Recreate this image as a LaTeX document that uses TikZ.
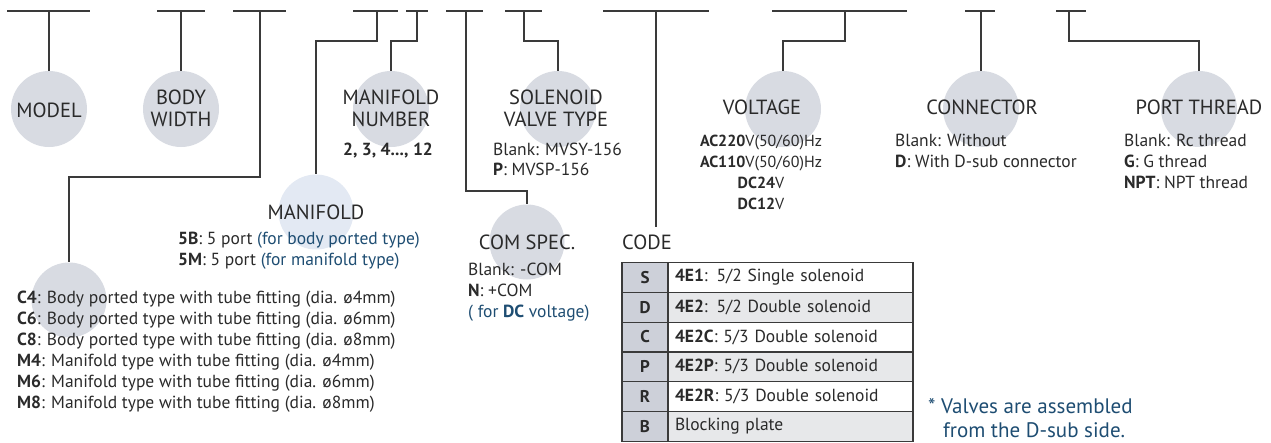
\documentclass[tikz,border=0pt]{standalone}
\usepackage{fontspec}
\setmainfont{PT Sans}
\definecolor{bubble}{HTML}{D8DBE2}
\definecolor{bubblelt}{HTML}{E3E9F3}
\definecolor{ink}{HTML}{2A2A2A}
\definecolor{lineclr}{HTML}{3A3A3A}
\definecolor{noteblue}{HTML}{1E4D72}
\definecolor{codefill}{HTML}{CDD0D9}
\definecolor{altfill}{HTML}{E7E8EA}
\tikzset{
  bub/.style={circle, fill=bubble, minimum size=76pt, inner sep=0pt},
  bar/.style={draw=lineclr, line width=1.4pt},
  conn/.style={draw=lineclr, line width=1.3pt},
  lab/.style={font=\fontsize{20.5}{24}\selectfont, text=ink, inner sep=0pt, anchor=base},
  lst/.style={font=\fontsize{17.5}{20}\selectfont, text=ink, inner sep=0pt, anchor=base west},
  lstc/.style={font=\fontsize{16}{20}\selectfont, text=ink, inner sep=0pt, anchor=base},
  notetxt/.style={font=\fontsize{21}{24}\selectfont, text=noteblue, inner sep=0pt, anchor=base west},
  codecell/.style={draw=lineclr, line width=1.2pt, fill=codefill, minimum width=46pt, minimum height=29.8pt, inner sep=0pt, font=\fontsize{17}{20}\selectfont\bfseries, text=ink},
  desccell/.style={draw=lineclr, line width=1.2pt, minimum width=245pt, minimum height=29.8pt, text width=231pt, inner xsep=7pt, inner ysep=0pt, align=left, font=\fontsize{17.5}{20}\selectfont, text=ink},
}
\begin{document}
\begin{tikzpicture}[x=1pt,y=-1pt]
\useasboundingbox (0,0) rectangle (1271,442);
% bubbles
\node[bub] (cModel) at (49,109) {};
\node[bub] (cBody) at (181,109) {};
\node[bub] (cNum) at (391,109) {};
\node[bub] (cSol) at (558,109) {};
\node[bub] (cVol) at (783,109) {};
\node[bub] (cCon) at (981,109) {};
\node[bub] (cPort) at (1199,109) {};
\node[bub, fill=bubblelt, minimum size=75pt] (cMan) at (316,212) {};
\node[bub, minimum size=75pt] (cCom) at (527,242) {};
\node[bub, minimum size=75pt] (cFit) at (69,300) {};
% top bars
\coordinate (t1) at (49,11);   \coordinate (a1) at (7,11);    \coordinate (b1) at (90,11);
\coordinate (t2) at (181,11);  \coordinate (a2) at (157,11);  \coordinate (b2) at (205,11);
\coordinate (t3) at (260,11);  \coordinate (a3) at (233,11);  \coordinate (b3) at (286,11);
\coordinate (t4) at (377,11);  \coordinate (a4) at (353,11);  \coordinate (b4) at (398,11);
\coordinate (t5) at (417,11);  \coordinate (a5) at (406,11);  \coordinate (b5) at (428,11);
\coordinate (t6) at (466,11);  \coordinate (a6) at (446,11);  \coordinate (b6) at (483,11);
\coordinate (t7) at (524,11);  \coordinate (a7) at (505,11);  \coordinate (b7) at (542,11);
\coordinate (t8) at (656,11);  \coordinate (a8) at (603,11);  \coordinate (b8) at (709,11);
\coordinate (t9) at (845,11);  \coordinate (a9) at (772,11);  \coordinate (b9) at (907,11);
\coordinate (t10) at (981,11); \coordinate (a10) at (965,11); \coordinate (b10) at (995,11);
\coordinate (t11) at (1069,11);\coordinate (a11) at (1056,11);\coordinate (b11) at (1086,11);
\foreach \i in {1,...,11} { \draw[bar] (a\i) -- (b\i); }
\coordinate (codeTop) at (656,227);
% connectors
\draw[conn] (t1) -- (cModel.north);
\draw[conn] (t2) -- (cBody.north);
\draw[conn] (t3) -- (t3 |- 0,177) -| (cFit.north);
\draw[conn] (t4) -- (t4 |- 0,41) -| (cMan.north);
\draw[conn] (t5) -- (t5 |- 0,41) -| (cNum.north);
\draw[conn] (t6) -- (t6 |- 0,191) -| (cCom.north);
\draw[conn] (t7) -- (t7 |- 0,41) -| (cSol.north);
\draw[conn] (t8) -- (codeTop);
\draw[conn] (t9) -- (t9 |- 0,41) -| (cVol.north);
\draw[conn] (t10) -- (cCon.north);
\draw[conn] (t11) -- (t11 |- 0,41) -| (cPort.north);
% labels
\node[lab] (lModel) at (49,117) {MODEL};
\node[lab] (lBody1) at (181,104) {BODY};
\node[lab] (lBody2) at (181,126) {WIDTH};
\node[lab] (lNum1) at (391,104) {MANIFOLD};
\node[lab] (lNum2) at (391,126) {NUMBER};
\node[lab] (lSol1) at (556,104) {SOLENOID};
\node[lab] (lSol2) at (556,126) {VALVE TYPE};
\node[lab] (lVol) at (762,114) {VOLTAGE};
\node[lab] (lCon) at (982,114) {CONNECTOR};
\node[lab] (lPort) at (1199,114) {PORT THREAD};
\node[lab] (lMan) at (316,219) {MANIFOLD};
\node[lab] (lCom) at (527,249) {COM SPEC.};
\node[lab, anchor=base west] (lCode) at (622,249) {CODE};
% lists
\node[lstc, font=\fontsize{17.5}{20}\selectfont] (n1) at (388,155) {\textbf{2, 3, 4..., 12}};
\node[lst] (s1) at (493,155) {Blank: MVSY-156};
\node[lst] (s2) at (493,175) {\textbf{P}: MVSP-156};
\node[lstc] (v1) at (761,146) {\textbf{AC220}V(50/60)Hz};
\node[lstc] (v2) at (761,167) {\textbf{AC110}V(50/60)Hz};
\node[lstc] (v3) at (761,188) {\textbf{DC24}V};
\node[lstc] (v4) at (761,209) {\textbf{DC12}V};
\node[lst] (k1) at (895,146) {Blank: Without};
\node[lst] (k2) at (895,167) {\textbf{D}: With D-sub connector};
\node[lst] (p1) at (1124,146) {Blank: Rc thread};
\node[lst] (p2) at (1124,167) {\textbf{G}: G thread};
\node[lst] (p3) at (1124,188) {\textbf{NPT}: NPT thread};
\node[lst] (m1) at (178,244) {\textbf{5B}: 5 port \textcolor{noteblue}{(for body ported type)}};
\node[lst] (m2) at (178,265) {\textbf{5M}: 5 port \textcolor{noteblue}{(for manifold type)}};
\node[lst] (o1) at (468,275) {Blank: -COM};
\node[lst] (o2) at (468,296) {\textbf{N}: +COM};
\node[lst, text=noteblue] (o3) at (468,317) {( for \textbf{DC} voltage)};
\node[lst] (f1) at (17,303) {\textbf{C4}: Body ported type with tube fitting (dia. ø4mm)};
\node[lst] (f2) at (17,324) {\textbf{C6}: Body ported type with tube fitting (dia. ø6mm)};
\node[lst] (f3) at (17,345) {\textbf{C8}: Body ported type with tube fitting (dia. ø8mm)};
\node[lst] (f4) at (17,366) {\textbf{M4}: Manifold type with tube fitting (dia. ø4mm)};
\node[lst] (f5) at (17,387) {\textbf{M6}: Manifold type with tube fitting (dia. ø6mm)};
\node[lst] (f6) at (17,408) {\textbf{M8}: Manifold type with tube fitting (dia. ø8mm)};
% table
\node[codecell] (c1) at (645,277.4) {S};
\node[codecell] (c2) at (645,307.2) {D};
\node[codecell] (c3) at (645,337.0) {C};
\node[codecell] (c4) at (645,366.8) {P};
\node[codecell] (c5) at (645,396.6) {R};
\node[codecell] (c6) at (645,426.4) {B};
\node[desccell, fill=white] (d1) at (790.5,277.4) {\textbf{4E1}: 5/2 Single solenoid};
\node[desccell, fill=altfill] (d2) at (790.5,307.2) {\textbf{4E2}: 5/2 Double solenoid};
\node[desccell, fill=white] (d3) at (790.5,337.0) {\textbf{4E2C}: 5/3 Double solenoid};
\node[desccell, fill=altfill] (d4) at (790.5,366.8) {\textbf{4E2P}: 5/3 Double solenoid};
\node[desccell, fill=white] (d5) at (790.5,396.6) {\textbf{4E2R}: 5/3 Double solenoid};
\node[desccell, fill=altfill] (d6) at (790.5,426.4) {Blocking plate};
% note
\node[notetxt] (note1) at (928,413) {* Valves are assembled};
\node[notetxt] (note2) at (943,437) {from the D-sub side.};
\end{tikzpicture}
\end{document}
